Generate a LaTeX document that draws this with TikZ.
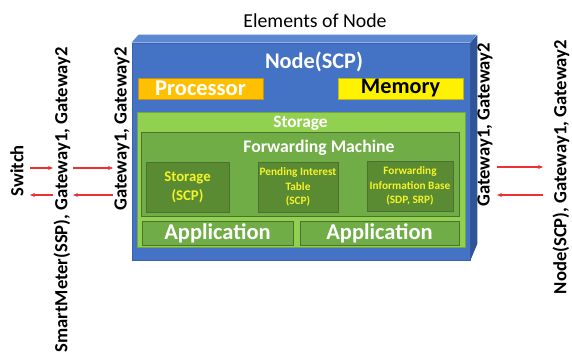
\documentclass[tikz,border=0pt]{standalone}
\usepackage{fontspec}
\setmainfont{Carlito}
\usetikzlibrary{arrows.meta}
\definecolor{bfront}{HTML}{4472C4}
\definecolor{btop}{HTML}{5B87D3}
\definecolor{bside}{HTML}{2F5597}
\definecolor{bline}{HTML}{3A62A8}
\definecolor{lgreen}{HTML}{92D050}
\definecolor{mgreen}{HTML}{70AD47}
\definecolor{dgreen}{HTML}{5A8A32}
\definecolor{gborder}{HTML}{4A7330}
\definecolor{proc}{HTML}{FFC000}
\definecolor{procb}{HTML}{C09020}
\definecolor{memb}{HTML}{B8B820}
\definecolor{ytext}{HTML}{F4F42A}
\definecolor{arrred}{HTML}{F03030}
\begin{document}
\begin{tikzpicture}[x=1pt,y=-1pt,
  box/.style={rectangle,inner sep=0pt,line width=0.8pt},
  lbl/.style={rotate=90,inner sep=0pt,anchor=east,font=\fontsize{18.6}{20}\selectfont\bfseries},
  arr/.style={arrred,line width=1.3pt,-{Stealth[length=5pt,width=4pt]}},
  small/.style={text=ytext,font=\fontsize{11.3}{14.5}\selectfont\bfseries,align=center},
  apptext/.style={text=white,font=\fontsize{22.5}{24}\selectfont\bfseries}]
\useasboundingbox (0,0) rectangle (572,358);
% title
\node[font=\fontsize{19.8}{22}\selectfont] (title) at (315,21) {Elements of Node};
% blue box
\node[box,fill=bfront,draw=bline,minimum width=338pt,minimum height=217pt] (front) at (301,151.5) {};
\fill[btop] (front.north west) -- ++(7,-8) -- ++(338,0) -- (front.north east) -- cycle;
\fill[bside] (front.north east) -- ++(7,-8) -- ++(0,209) -- (front.south east) -- cycle;
\node[text=white,font=\fontsize{22.3}{24}\selectfont\bfseries] (nodescp) at (314,62) {Node(SCP)};
\node[box,fill=proc,draw=procb,minimum width=125pt,minimum height=21pt,text=white,font=\fontsize{22.5}{24}\selectfont\bfseries] (proc) at (200.5,88.5) {Processor};
\node[box,fill=yellow,draw=memb,minimum width=125pt,minimum height=21pt,font=\fontsize{22.2}{24}\selectfont\bfseries] (mem) at (400.5,88.5) {Memory};
% storage
\node[box,fill=lgreen,draw=lgreen!80!black,minimum width=328pt,minimum height=135pt] (storage) at (301,179.5) {};
\node[text=white,font=\fontsize{17.3}{19}\selectfont\bfseries] (storaget) at (300.5,123) {Storage};
\node[box,fill=mgreen,draw=gborder,minimum width=318pt,minimum height=84pt] (fm) at (300,174) {};
\node[text=white,font=\fontsize{17.7}{19}\selectfont\bfseries] (fmt) at (319,147.5) {Forwarding Machine};
\node[box,fill=dgreen,draw=gborder,minimum width=83pt,minimum height=50pt,text=ytext,font=\fontsize{14.8}{19}\selectfont\bfseries,align=center] (cs) at (187.5,187) {Storage\\(SCP)};
\node[box,fill=dgreen,draw=gborder,minimum width=80pt,minimum height=50pt,small] (pit) at (298,187) {Pending Interest\\Table\\(SCP)};
\node[box,fill=dgreen,draw=gborder,minimum width=86pt,minimum height=50pt,small] (fib) at (410,186) {Forwarding\\Information Base\\(SDP, SRP)};
\node[box,fill=mgreen,draw=gborder,minimum width=151pt,minimum height=24pt,apptext] (app1) at (217.5,233) {Application};
\node[box,fill=mgreen,draw=gborder,minimum width=159pt,minimum height=24pt,apptext] (app2) at (379.5,233) {Application};
% side labels
\node[lbl] (sw) at (17,145) {Switch};
\node[lbl] (sm) at (62,47) {SmartMeter(SSP), Gateway1, Gateway2};
\node[lbl] (gl) at (122,47) {Gateway1, Gateway2};
\node[lbl] (gr) at (485,43) {Gateway1, Gateway2};
\node[lbl] (nr) at (561,40) {Node(SCP), Gateway1, Gateway2};
% arrows
\coordinate (a1) at (30,168); \coordinate (a2) at (53,168);
\coordinate (a3) at (73,168); \coordinate (a4) at (113,168);
\coordinate (b1) at (30,195); \coordinate (b2) at (53,195);
\coordinate (b3) at (73,195); \coordinate (b4) at (113,195);
\coordinate (c1) at (497,167); \coordinate (c2) at (543,167);
\coordinate (d1) at (497,195); \coordinate (d2) at (543,195);
\draw[arr] (a1) -- (a2);
\draw[arr] (a3) -- (a4);
\draw[arr] (b2) -- (b1);
\draw[arr] (b4) -- (b3);
\draw[arr] (c1) -- (c2);
\draw[arr] (d2) -- (d1);
\end{tikzpicture}
\end{document}
